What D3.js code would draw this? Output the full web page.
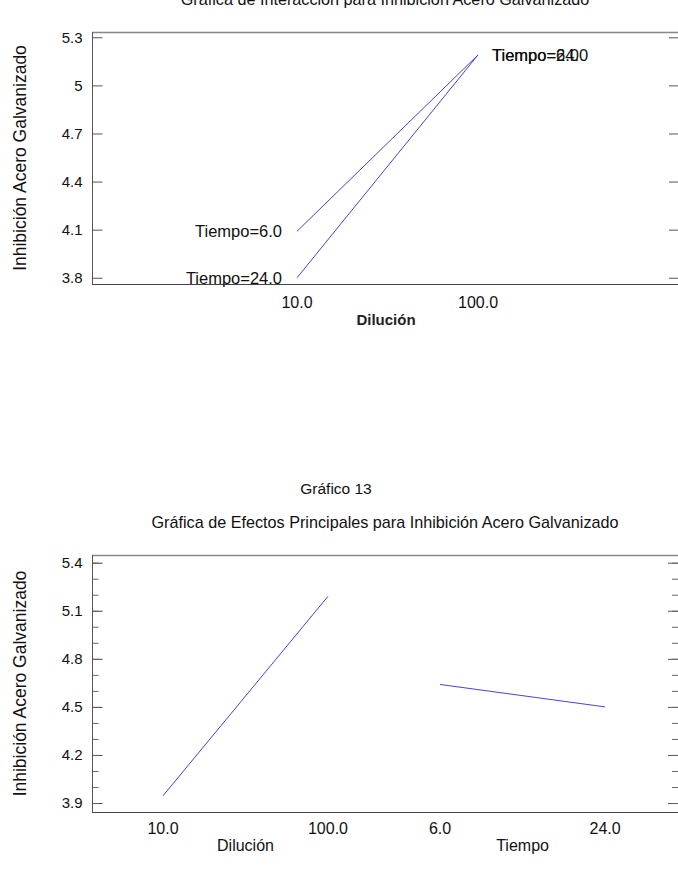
<!DOCTYPE html>
<html>
<head>
<meta charset="utf-8">
<script src="https://cdn.jsdelivr.net/npm/d3@7"></script>
<style>
  html, body { margin: 0; padding: 0; background: #fff; }
  svg { display: block; font-family: "Liberation Sans", Arial, sans-serif; }
</style>
</head>
<body>
<svg id="chart" width="678" height="896"></svg>
<script>
// ---- data ----
const dilucionLevels = ["10.0", "100.0"];
const tiempoLevels = ["6.0", "24.0"];
const interaccionTiempo6 = [4.09, 5.19];
const interaccionTiempo24 = [3.80, 5.19];
const interaccionSeries = ["Tiempo=6.0", "Tiempo=24.0"];
const efectoDilucion = [3.945, 5.19];
const efectoTiempo = [4.64, 4.50];
const yTicksTop = [3.8, 4.1, 4.4, 4.7, 5.0, 5.3];
const yTickLabelsTop = ["3.8", "4.1", "4.4", "4.7", "5", "5.3"];
const yTicksBottom = [3.9, 4.2, 4.5, 4.8, 5.1, 5.4];
const yTickLabelsBottom = ["3.9", "4.2", "4.5", "4.8", "5.1", "5.4"];
const yMinorBottom = d3.range(39, 55).map(v => v / 10);

const titleTop = "Gráfica de Interacción para Inhibición Acero Galvanizado";
const caption = "Gráfico 13";
const titleBottom = "Gráfica de Efectos Principales para Inhibición Acero Galvanizado";
const yTitle = "Inhibición Acero Galvanizado";

const svg = d3.select("#chart");
const lineColor = "#4444d8";
const FONT = "Liberation Sans, Arial, sans-serif";

function frame(g, x0, x1, y0, y1) {
  g.append("line").attr("x1", x0).attr("x2", x1).attr("y1", y0 + 0.5).attr("y2", y0 + 0.5)
    .attr("stroke", "#888").attr("stroke-width", 1.5);
  g.append("line").attr("x1", x0 + 0.5).attr("x2", x0 + 0.5).attr("y1", y0).attr("y2", y1)
    .attr("stroke", "#555").attr("stroke-width", 1);
  g.append("line").attr("x1", x0).attr("x2", x1).attr("y1", y1 + 0.5).attr("y2", y1 + 0.5)
    .attr("stroke", "#444").attr("stroke-width", 1.2);
}

// ================= TOP: interaction plot =================
{
  const L = 92, R = 680, T = 32, B = 284;
  const y = d3.scaleLinear().domain([3.761, 5.333]).range([B, T]);
  const x = d3.scaleLinear().domain([-1.133, 2.116]).range([L, R]);
  const g = svg.append("g");

  g.append("text").attr("x", 385).attr("y", 5).attr("text-anchor", "middle")
    .attr("font-size", 16.2).attr("fill", "#111").text(titleTop);

  frame(g, L, R, T, B);

  const axL = d3.axisLeft(y).tickValues(yTicksTop)
    .tickFormat((d, i) => yTickLabelsTop[i]).tickSizeInner(-10).tickSizeOuter(0).tickPadding(10);
  const ga = g.append("g").attr("transform", `translate(${L + 0.5},0)`).call(axL);
  ga.select(".domain").remove();
  ga.selectAll(".tick line").attr("stroke", "#555");
  ga.selectAll(".tick text").attr("font-size", 15).attr("fill", "#111").attr("font-family", FONT);

  const axR = d3.axisRight(y).tickValues(yTicksTop).tickFormat("").tickSizeInner(-10).tickSizeOuter(0);
  const gr = g.append("g").attr("transform", `translate(${R - 1},0)`).call(axR);
  gr.select(".domain").remove();
  gr.selectAll(".tick line").attr("stroke", "#555");

  g.selectAll(".xl").data(dilucionLevels).join("text")
    .attr("x", (d, i) => x(i)).attr("y", 308).attr("text-anchor", "middle")
    .attr("font-size", 16).attr("fill", "#111").text(d => d);
  g.append("text").attr("x", 386).attr("y", 325).attr("text-anchor", "middle")
    .attr("font-size", 15).attr("font-weight", "bold").attr("fill", "#222").text("Dilución");

  g.append("text").attr("transform", `translate(26,${(T + B) / 2}) rotate(-90)`)
    .attr("text-anchor", "middle").attr("font-size", 17.5).attr("fill", "#111").text(yTitle);

  const series = [interaccionTiempo6, interaccionTiempo24];
  const line = d3.line().x((d, i) => x(i)).y(d => y(d));
  series.forEach((s, k) => {
    g.append("path").attr("d", line(s)).attr("fill", "none")
      .attr("stroke", lineColor).attr("stroke-width", 1);
    g.append("text").attr("x", x(0) - 15).attr("y", y(s[0]) + 6).attr("text-anchor", "end")
      .attr("font-size", 16.5).attr("fill", "#111").text(interaccionSeries[k]);
    g.append("text").attr("x", x(1) + 14).attr("y", y(s[1]) + 6).attr("text-anchor", "start")
      .attr("font-size", 16.5).attr("fill", "#111").text(interaccionSeries[k]);
  });
}

// ================= caption =================
svg.append("text").attr("x", 336).attr("y", 494).attr("text-anchor", "middle")
  .attr("font-size", 15.5).attr("fill", "#111").text(caption);

// ================= BOTTOM: main effects =================
{
  const L = 92, R = 680, T = 555, B = 812;
  const y = d3.scaleLinear().domain([3.844, 5.448]).range([B, T]);
  const x = d3.scaleLinear().domain([-0.43, 3.133]).range([L, R]);
  const gap = 0.679;
  const g = svg.append("g");

  g.append("text").attr("x", 385).attr("y", 528).attr("text-anchor", "middle")
    .attr("font-size", 16.2).attr("fill", "#111").text(titleBottom);

  frame(g, L, R, T, B);

  const axL = d3.axisLeft(y).tickValues(yTicksBottom)
    .tickFormat((d, i) => yTickLabelsBottom[i]).tickSizeInner(-10).tickSizeOuter(0).tickPadding(10);
  const ga = g.append("g").attr("transform", `translate(${L + 0.5},0)`).call(axL);
  ga.select(".domain").remove();
  ga.selectAll(".tick line").attr("stroke", "#444");
  ga.selectAll(".tick text").attr("font-size", 15).attr("fill", "#111").attr("font-family", FONT);

  const axLm = d3.axisRight(y).tickValues(yMinorBottom).tickFormat("").tickSizeInner(6).tickSizeOuter(0);
  const gm = g.append("g").attr("transform", `translate(${L + 0.5},0)`).call(axLm);
  gm.select(".domain").remove();
  gm.selectAll(".tick line").attr("stroke", "#666");

  const axR = d3.axisRight(y).tickValues(yTicksBottom).tickFormat("").tickSizeInner(-10).tickSizeOuter(0);
  const gr = g.append("g").attr("transform", `translate(${R - 2},0)`).call(axR);
  gr.select(".domain").remove();
  gr.selectAll(".tick line").attr("stroke", "#555");
  const axRm = d3.axisLeft(y).tickValues(yMinorBottom).tickFormat("").tickSizeInner(6).tickSizeOuter(0);
  const grm = g.append("g").attr("transform", `translate(${R - 2},0)`).call(axRm);
  grm.select(".domain").remove();
  grm.selectAll(".tick line").attr("stroke", "#666");

  const factors = [
    { name: "Dilución", levels: dilucionLevels, values: efectoDilucion },
    { name: "Tiempo", levels: tiempoLevels, values: efectoTiempo }
  ];
  const line = d3.line().x(d => x(d.p)).y(d => y(d.v));
  factors.forEach((f, k) => {
    const off = k * (1 + gap);
    const pts = f.values.map((v, i) => ({ p: off + i, v }));
    g.append("path").attr("d", line(pts)).attr("fill", "none")
      .attr("stroke", lineColor).attr("stroke-width", 1);
    f.levels.forEach((lv, i) => {
      g.append("text").attr("x", x(off + i)).attr("y", 834).attr("text-anchor", "middle")
        .attr("font-size", 16).attr("fill", "#111").text(lv);
    });
    g.append("text").attr("x", x(off + 0.5)).attr("y", 851).attr("text-anchor", "middle")
      .attr("font-size", 16).attr("fill", "#111").text(f.name);
  });

  g.append("text").attr("transform", `translate(26,${(T + B) / 2}) rotate(-90)`)
    .attr("text-anchor", "middle").attr("font-size", 17.5).attr("fill", "#111").text(yTitle);
}
</script>
</body>
</html>
